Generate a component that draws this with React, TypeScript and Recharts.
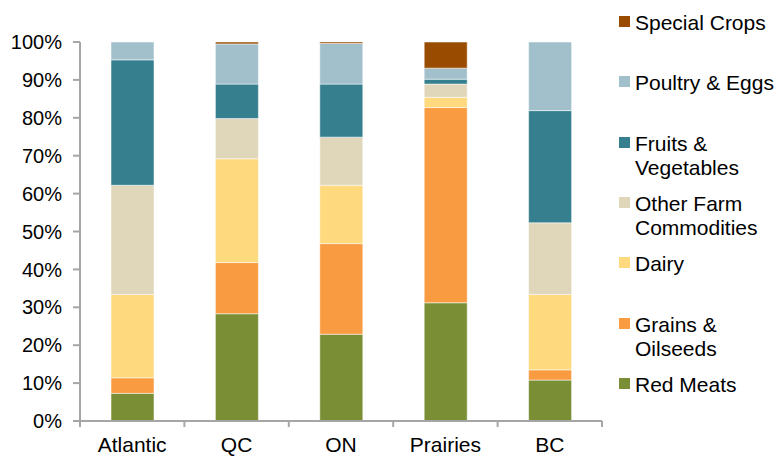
import { BarChart, Bar, XAxis, YAxis } from "recharts";

const regions = ["Atlantic", "QC", "ON", "Prairies", "BC"];

// shares of farm cash receipts (%)
const redMeats = [7.3, 28.3, 22.9, 31.2, 10.8];
const grainsOilseeds = [4.1, 13.5, 23.9, 51.5, 2.7];
const dairy = [22.0, 27.4, 15.4, 2.7, 19.9];
const otherFarm = [28.8, 10.6, 12.7, 3.5, 18.9];
const fruitsVeg = [33.1, 9.1, 14.0, 1.3, 29.6];
const poultryEggs = [4.7, 10.6, 10.7, 2.9, 18.1];
const specialCrops = [0, 0.5, 0.4, 6.9, 0];

const yTicks = [0, 0.1, 0.2, 0.3, 0.4, 0.5, 0.6, 0.7, 0.8, 0.9, 1];

// bottom to top
const series = [
  { key: "redMeats", label: ["Red Meats"], color: "#7A8F35", values: redMeats },
  { key: "grains", label: ["Grains &", "Oilseeds"], color: "#F99B40", values: grainsOilseeds },
  { key: "dairy", label: ["Dairy"], color: "#FED97E", values: dairy },
  { key: "other", label: ["Other Farm", "Commodities"], color: "#E0D6BA", values: otherFarm },
  { key: "fruits", label: ["Fruits &", "Vegetables"], color: "#357F8F", values: fruitsVeg },
  { key: "poultry", label: ["Poultry & Eggs"], color: "#A1C0CB", values: poultryEggs },
  { key: "special", label: ["Special Crops"], color: "#994C00", values: specialCrops },
];

const data = regions.map((region, i) => {
  const row: Record<string, string | number> = { region };
  series.forEach((s) => {
    row[s.key] = s.values[i];
  });
  return row;
});

const AXIS = "#A6A6A6";
const FONT = "'Liberation Sans', Arial, sans-serif";

function RegionTick(props: any) {
  const { x, y, payload, index, visibleTicksCount } = props;
  const half = payload?.offset ?? 52;
  const last = index === visibleTicksCount - 1;
  return (
    <g>
      <line x1={x - half} y1={y} x2={x - half} y2={y + 6} stroke={AXIS} strokeWidth={2} />
      {last && (
        <line x1={x + half} y1={y} x2={x + half} y2={y + 6} stroke={AXIS} strokeWidth={2} />
      )}
      <text x={x} y={y + 31} textAnchor="middle" fill="#000" fontSize={21} fontFamily={FONT}>
        {payload.value}
      </text>
    </g>
  );
}

function SideLegend() {
  const items = [...series].reverse();
  return (
    <div style={{ position: "absolute", left: 619, top: 0, fontFamily: FONT, fontSize: 21, color: "#000" }}>
      {items.map((s, i) => (
        <div
          key={s.key}
          style={{ position: "absolute", top: 11 + i * 60.3, left: 0, whiteSpace: "nowrap", lineHeight: "24px" }}
        >
          <span
            style={{ position: "absolute", left: 0, top: 5, width: 11, height: 11, background: s.color }}
          />
          <div style={{ marginLeft: 16 }}>
            {s.label.map((line) => (
              <div key={line}>{line}</div>
            ))}
          </div>
        </div>
      ))}
    </div>
  );
}

export default function App() {
  return (
    <div style={{ position: "absolute", left: 0, top: 0, width: 778, height: 457, background: "#fff" }}>
      <BarChart
        width={778}
        height={457}
        data={data}
        stackOffset="expand"
        barSize={43}
        margin={{ top: 42, right: 176, left: 0, bottom: 0 }}
      >
        <XAxis
          dataKey="region"
          height={36}
          axisLine={{ stroke: AXIS, strokeWidth: 2 }}
          tickLine={false}
          tickSize={0}
          tickMargin={0}
          tick={<RegionTick />}
          interval={0}
        />
        <YAxis
          width={80}
          domain={[0, 1]}
          ticks={yTicks}
          interval={0}
          tickFormatter={(v: number) => `${Math.round(v * 100)}%`}
          axisLine={{ stroke: AXIS, strokeWidth: 2 }}
          tickLine={{ stroke: AXIS, strokeWidth: 2 }}
          tickSize={7}
          tickMargin={11}
          tick={{ fill: "#000", fontSize: 20, fontFamily: FONT }}
        />
        {series.map((s) => (
          <Bar
            key={s.key}
            dataKey={s.key}
            stackId="a"
            fill={s.color}
            stroke="#ffffff"
            strokeOpacity={0.5}
            strokeWidth={1}
            isAnimationActive={false}
          />
        ))}
      </BarChart>
      <SideLegend />
    </div>
  );
}
